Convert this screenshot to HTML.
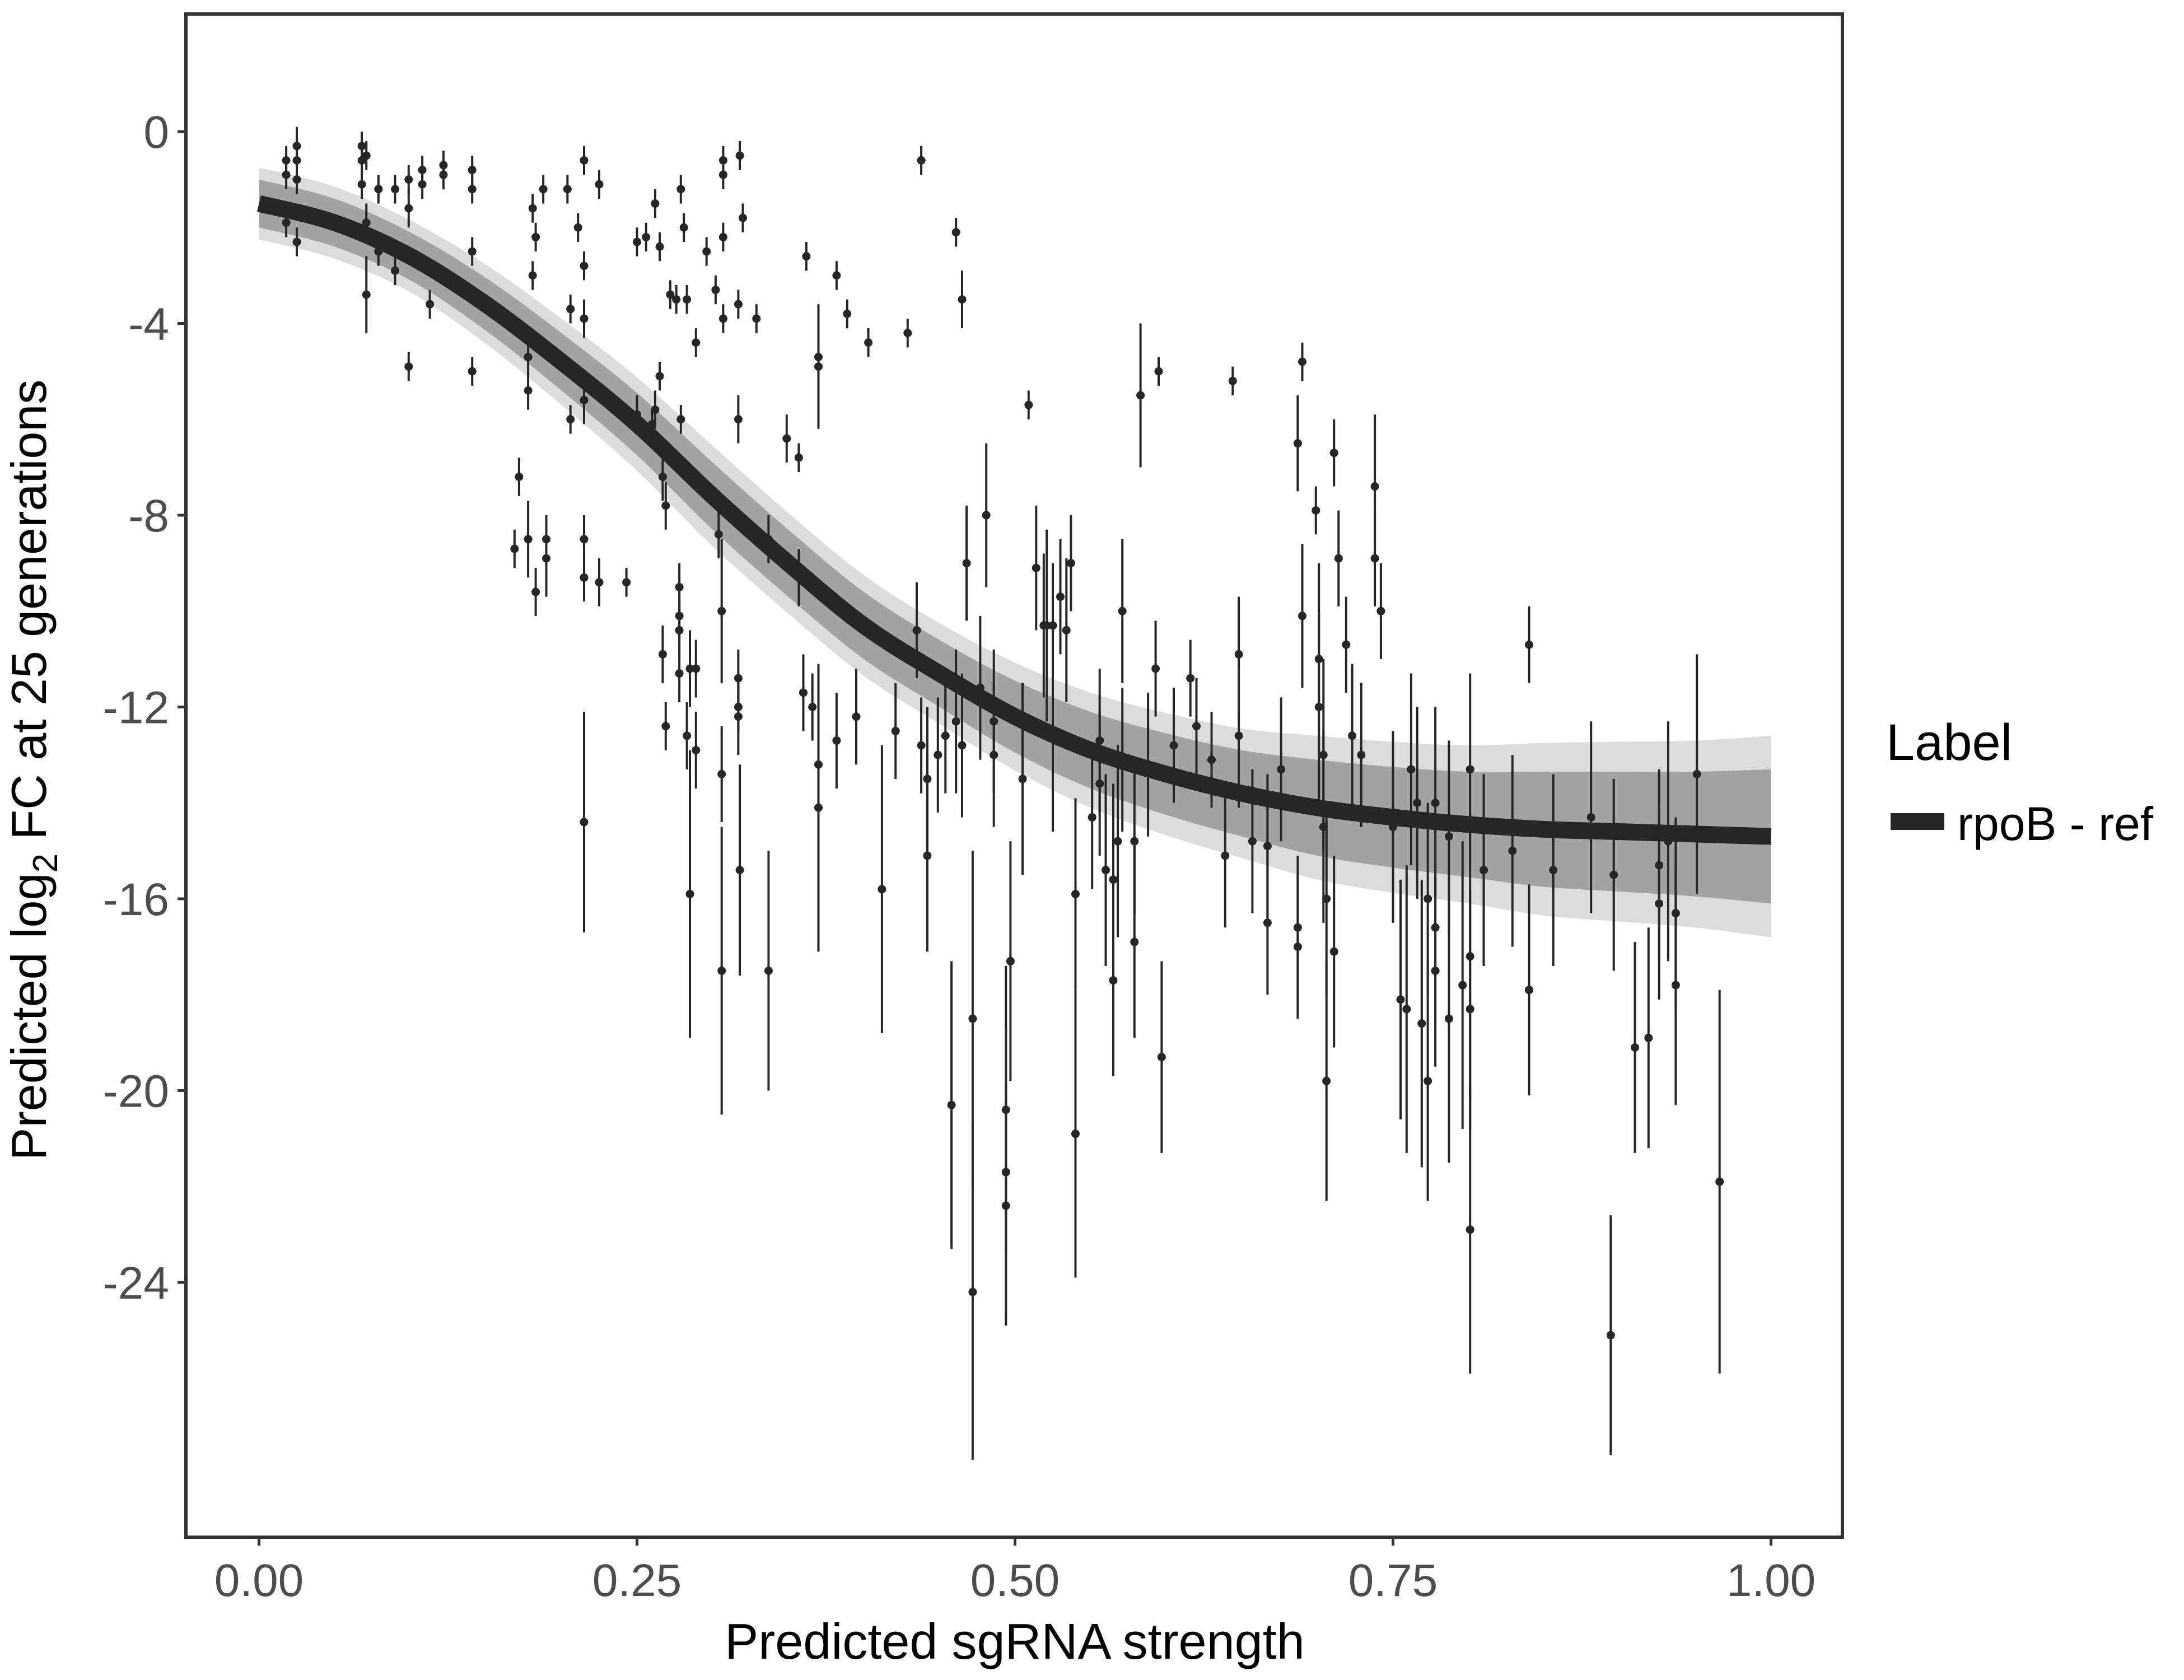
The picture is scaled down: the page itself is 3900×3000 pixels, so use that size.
<!DOCTYPE html>
<html><head><meta charset="utf-8"><style>
html,body{margin:0;padding:0;background:#fff;}
svg{display:block;font-family:"Liberation Sans",Arial,sans-serif;}
</style></head><body>
<svg id="chart" width="3900" height="3000" viewBox="0 0 3900 3000" xmlns="http://www.w3.org/2000/svg">
<rect x="0" y="0" width="3900" height="3000" fill="#fff"/>
<g id="band"></g>
<g id="points"></g>
<g id="curve"></g>
<rect x="332" y="25" width="2958" height="2720" fill="none" stroke="#333" stroke-width="6"/>
<g id="xaxis"></g>
<g id="yaxis"></g>
<text x="1812" y="2962" font-size="90" text-anchor="middle" fill="#000">Predicted sgRNA strength</text>
<text transform="translate(82,1375) rotate(-90)" font-size="88" text-anchor="middle" fill="#000">Predicted  log<tspan font-size="62" dy="20">2</tspan><tspan dy="-20"> FC at 25 generations</tspan></text>
<g>
<text x="3368" y="1357" font-size="92" fill="#000">Label</text>
<rect x="3376" y="1452" width="96" height="30" fill="#262626"/>
<text x="3495" y="1500" font-size="84" fill="#000">rpoB - ref</text>
</g>
</svg>
<script>
const xTicks=[0,0.25,0.5,0.75,1];
const xTickLabels=["0.00","0.25","0.50","0.75","1.00"];
const yTicks=[0,-4,-8,-12,-16,-20,-24];
const yTickLabels=["0","-4","-8","-12","-16","-20","-24"];
const curveX=[0,0.05,0.1,0.15,0.2,0.25,0.3,0.35,0.4,0.45,0.5,0.55,0.6,0.65,0.7,0.75,0.8,0.85,0.9,0.95,1];
const curveY=[-1.5,-1.9,-2.6,-3.6,-4.8,-6.1,-7.6,-9.0,-10.3,-11.3,-12.2,-12.9,-13.4,-13.8,-14.1,-14.3,-14.45,-14.55,-14.6,-14.65,-14.7];
const bandHalf=[0.5,0.5,0.5,0.55,0.6,0.65,0.7,0.7,0.7,0.7,0.75,0.8,0.85,0.9,1.0,1.05,1.1,1.2,1.25,1.3,1.4];
const xs=[0.018,0.018,0.018,0.025,0.025,0.025,0.025,0.068,0.068,0.068,0.071,0.071,0.071,0.079,0.079,0.09,0.09,0.099,0.099,0.099,0.108,0.108,0.113,0.122,0.122,0.141,0.141,0.141,0.141,0.169,0.172,0.178,0.178,0.178,0.181,0.181,0.183,0.183,0.188,0.19,0.19,0.204,0.206,0.206,0.211,0.215,0.215,0.215,0.215,0.215,0.215,0.215,0.225,0.225,0.243,0.25,0.25,0.256,0.26,0.262,0.262,0.265,0.265,0.267,0.267,0.269,0.269,0.272,0.276,0.278,0.278,0.278,0.278,0.279,0.279,0.281,0.283,0.283,0.285,0.285,0.289,0.289,0.289,0.296,0.302,0.304,0.306,0.306,0.306,0.307,0.307,0.307,0.307,0.317,0.317,0.317,0.317,0.317,0.318,0.318,0.32,0.329,0.337,0.337,0.349,0.357,0.357,0.36,0.362,0.366,0.37,0.37,0.37,0.37,0.382,0.382,0.389,0.395,0.403,0.412,0.421,0.429,0.435,0.438,0.438,0.442,0.442,0.449,0.454,0.458,0.461,0.461,0.465,0.465,0.468,0.472,0.472,0.477,0.481,0.486,0.486,0.494,0.494,0.494,0.497,0.505,0.509,0.514,0.519,0.521,0.525,0.525,0.53,0.534,0.537,0.54,0.54,0.551,0.556,0.556,0.56,0.565,0.565,0.568,0.571,0.571,0.579,0.579,0.583,0.588,0.593,0.595,0.597,0.605,0.616,0.62,0.63,0.639,0.644,0.648,0.648,0.657,0.667,0.667,0.676,0.687,0.687,0.687,0.69,0.69,0.699,0.701,0.701,0.704,0.704,0.706,0.706,0.711,0.711,0.714,0.719,0.723,0.729,0.738,0.738,0.742,0.75,0.755,0.759,0.762,0.766,0.769,0.773,0.773,0.778,0.778,0.778,0.787,0.787,0.796,0.801,0.801,0.801,0.801,0.81,0.829,0.84,0.84,0.856,0.881,0.894,0.896,0.91,0.919,0.926,0.926,0.932,0.937,0.937,0.951,0.966];
const ys=[-0.6,-0.9,-1.9,-0.3,-0.6,-1.0,-2.3,-0.3,-0.6,-1.1,-0.5,-1.9,-3.4,-2.5,-1.2,-1.2,-2.9,-1.0,-1.6,-4.9,-0.8,-1.1,-3.6,-0.7,-0.9,-0.8,-1.2,-2.5,-5.0,-8.7,-7.2,-8.5,-5.4,-4.7,-1.6,-3.0,-2.2,-9.6,-1.2,-8.5,-8.9,-1.2,-6.0,-3.7,-2.0,-0.6,-2.8,-3.9,-5.6,-8.5,-9.3,-14.4,-1.1,-9.4,-9.4,-2.3,-5.9,-2.2,-6.1,-1.5,-5.8,-2.4,-5.1,-7.2,-10.9,-12.4,-7.8,-3.4,-3.5,-10.4,-11.3,-9.5,-10.1,-1.2,-6.0,-2.0,-3.5,-12.6,-15.9,-11.2,-4.4,-12.9,-11.2,-2.5,-3.3,-8.4,-10.0,-17.5,-13.4,-0.6,-0.9,-2.2,-3.9,-6.0,-3.6,-12.2,-11.4,-12.0,-0.5,-15.4,-1.8,-3.9,-8.5,-17.5,-6.4,-9.3,-6.8,-11.7,-2.6,-12.0,-14.1,-13.2,-4.9,-4.7,-3.0,-12.7,-3.8,-12.2,-4.4,-15.8,-12.5,-4.2,-10.4,-0.6,-12.8,-13.5,-15.1,-13.0,-12.6,-20.3,-2.1,-12.3,-3.5,-12.8,-9.0,-24.2,-18.5,-11.6,-8.0,-12.3,-13.0,-20.4,-22.4,-21.7,-17.3,-13.5,-5.7,-9.1,-10.3,-10.3,-12.6,-10.3,-9.7,-10.4,-9.0,-15.9,-20.9,-14.3,-12.7,-13.6,-15.4,-15.6,-17.7,-14.8,-10.0,-13.1,-14.8,-16.9,-5.5,-13.2,-11.2,-5.0,-19.3,-12.8,-11.4,-12.4,-13.1,-15.1,-5.2,-10.9,-12.6,-14.8,-14.9,-16.5,-13.3,-6.5,-16.6,-17.0,-4.8,-10.1,-7.9,-11.0,-12.0,-13.0,-14.5,-16.0,-19.8,-6.7,-17.1,-8.9,-10.7,-12.6,-13.0,-7.4,-8.9,-10.0,-14.5,-18.1,-18.3,-13.3,-14.0,-18.6,-19.8,-16.0,-16.6,-17.5,-14.0,-14.7,-18.5,-17.8,-13.3,-22.9,-18.3,-17.2,-15.4,-15.0,-10.7,-17.9,-15.4,-14.3,-25.1,-15.5,-19.1,-18.9,-15.3,-16.1,-14.8,-16.3,-17.8,-13.4,-21.9];
const errs=[0.3,0.3,0.3,0.4,0.3,0.3,0.3,0.3,0.3,0.3,0.3,0.4,0.8,0.3,0.3,0.3,0.3,0.3,0.4,0.3,0.3,0.3,0.3,0.3,0.3,0.3,0.3,0.3,0.3,0.4,0.4,0.8,0.4,0.4,0.3,0.3,0.3,0.5,0.3,0.5,0.8,0.3,0.3,0.3,0.3,0.3,0.3,0.4,0.5,0.5,0.5,2.3,0.3,0.5,0.3,0.3,0.4,0.3,0.3,0.3,0.4,0.3,0.3,0.5,0.6,0.5,0.5,0.3,0.3,0.6,0.6,0.5,0.5,0.3,0.3,0.3,0.3,0.7,3.0,0.8,0.3,0.8,0.6,0.3,0.3,0.5,1.5,3.0,1.0,0.3,0.3,0.3,0.3,0.5,0.3,0.8,0.6,0.5,0.3,2.2,0.3,0.3,0.5,2.5,0.5,0.6,0.3,0.8,0.3,0.7,3.0,2.0,1.3,1.0,0.3,1.0,0.3,1.0,0.3,3.0,1.0,0.3,1.0,0.3,1.0,1.5,2.0,1.2,1.2,3.0,0.3,1.5,0.6,1.5,1.2,3.5,3.5,1.5,1.5,1.5,1.5,3.0,2.5,3.0,2.5,2.0,0.3,1.3,1.5,2.0,2.0,1.3,1.2,1.5,1.0,2.0,3.0,1.5,1.5,1.5,2.0,2.0,2.0,2.0,1.5,1.5,1.5,2.0,1.5,1.5,1.0,0.3,2.0,1.2,0.8,1.0,1.0,1.5,0.3,1.2,1.5,1.5,1.5,1.5,1.5,1.0,1.5,1.5,0.4,1.5,0.5,2.0,2.0,2.0,2.0,2.0,2.5,0.7,2.0,1.0,1.0,1.5,1.5,1.5,1.0,1.0,2.0,2.5,3.0,2.0,2.0,3.0,2.5,2.0,2.0,2.0,2.0,2.0,3.0,3.0,2.0,3.0,2.5,3.0,2.0,2.0,0.8,2.2,2.0,2.0,2.5,2.0,2.2,2.3,2.0,2.0,2.5,2.0,2.5,2.5,4.0];

const NS="http://www.w3.org/2000/svg";
const X0=462.5,XW=2700,Y0=235,YU=85.625;
function sx(v){return X0+v*XW;}
function sy(v){return Y0-v*YU;}
function mk(tag,attrs,parent){const e=document.createElementNS(NS,tag);for(const k in attrs)e.setAttribute(k,attrs[k]);parent.appendChild(e);return e;}
// Catmull-Rom sampling of a series
function smooth(xv,yv){
  const out=[];
  const n=xv.length;
  for(let i=0;i<n-1;i++){
    const i0=Math.max(i-1,0),i3=Math.min(i+2,n-1);
    for(let s=0;s<10;s++){
      const t=s/10,t2=t*t,t3=t2*t;
      const f=(p0,p1,p2,p3)=>0.5*((2*p1)+(-p0+p2)*t+(2*p0-5*p1+4*p2-p3)*t2+(-p0+3*p1-3*p2+p3)*t3);
      out.push([f(xv[i0],xv[i],xv[i+1],xv[i3]),f(yv[i0],yv[i],yv[i+1],yv[i3])]);
    }
  }
  out.push([xv[n-1],yv[n-1]]);
  return out;
}

const band=document.getElementById('band');
function bandPath(mult){
  const up=smooth(curveX,curveY.map((v,i)=>v+bandHalf[i]*mult));
  const dn=smooth(curveX,curveY.map((v,i)=>v-bandHalf[i]*mult)).reverse();
  return 'M'+up.map(p=>sx(p[0])+','+sy(p[1])).join('L')+'L'+dn.map(p=>sx(p[0])+','+sy(p[1])).join('L')+'Z';
}
const outer=mk('path',{d:bandPath(1.5),fill:'#dcdcdc'},band);


const inner=mk('path',{d:bandPath(1.0),fill:'#a3a3a3'},band);



const pts=document.getElementById('points');
for(let i=0;i<xs.length;i++){
  const g=mk('g',{},pts);
  
  
  mk('line',{x1:sx(xs[i]),x2:sx(xs[i]),y1:sy(ys[i]+errs[i]),y2:sy(ys[i]-errs[i]),stroke:'#262626','stroke-width':4},g);
  mk('circle',{cx:sx(xs[i]),cy:sy(ys[i]),r:7.5,fill:'#262626'},g);
}

const cg=document.getElementById('curve');
const cpts=smooth(curveX,curveY);
const d='M'+cpts.map(p=>sx(p[0])+','+sy(p[1])).join('L');
const cp=mk('path',{d:d,fill:'none',stroke:'#262626','stroke-width':30,'stroke-linejoin':'round'},cg);



const xa=document.getElementById('xaxis');
for(let i=0;i<xTicks.length;i++){
  const t=mk('line',{x1:sx(xTicks[i]),x2:sx(xTicks[i]),y1:2745,y2:2760,stroke:'#333','stroke-width':5},xa);
  
  
  const l=mk('text',{x:sx(xTicks[i]),y:2850,'font-size':82,'text-anchor':'middle',fill:'#4d4d4d'},xa);
  l.textContent=xTickLabels[i];
  
  
}
const ya=document.getElementById('yaxis');
for(let i=0;i<yTicks.length;i++){
  const t=mk('line',{x1:317,x2:332,y1:sy(yTicks[i]),y2:sy(yTicks[i]),stroke:'#333','stroke-width':5},ya);
  
  
  const l=mk('text',{x:302,y:sy(yTicks[i])+29,'font-size':82,'text-anchor':'end',fill:'#4d4d4d'},ya);
  l.textContent=yTickLabels[i];
  
  
}
</script>
</body></html>
